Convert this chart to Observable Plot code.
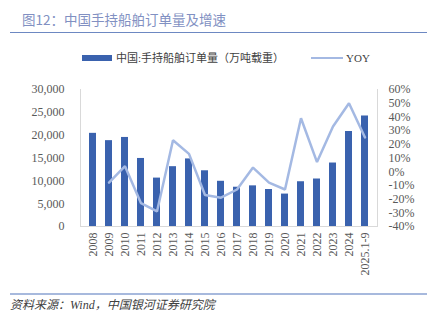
<!DOCTYPE html>
<html><head><meta charset="utf-8">
<script src="https://cdn.jsdelivr.net/npm/d3@7"></script>
<script src="https://cdn.jsdelivr.net/npm/@observablehq/plot@0.6"></script>
<style>
html,body{margin:0;padding:0;background:#fff;}
#page{position:relative;width:432px;height:323px;overflow:hidden;background:#fff;}
.abs{position:absolute;white-space:nowrap;}
#title{left:22px;top:12px;font:13.5px/14px "Noto Sans CJK SC",sans-serif;color:#8190c2;}
#tline{left:10px;top:31.5px;width:417px;height:1.5px;background:#6d88c2;}
#chart{left:0;top:40px;}
#chart svg, #chart svg text{font-family:"Liberation Serif","Times New Roman",serif !important;font-size:12px !important;}
.leg{font:11px/12px "Liberation Serif","Noto Sans CJK SC",serif;color:#404040;}
#bline{left:10px;top:293px;width:417px;height:2px;background:#a7b9dd;}
#src{left:10px;top:298px;font:italic 12px/14px "Liberation Serif","Noto Sans CJK SC",serif;color:#404040;}
</style></head>
<body><div id="page">
<div id="title" class="abs">图12：中国手持船舶订单量及增速</div>
<div id="tline" class="abs"></div>
<div class="abs" style="left:82px;top:55px;width:30px;height:6px;background:#3a62ae"></div>
<div class="abs leg" style="left:116px;top:52px">中国:手持船舶订单量（万吨载重）</div>
<div class="abs" style="left:311px;top:56.8px;width:32px;height:2.5px;background:#a4b9e3"></div>
<div class="abs leg" style="left:346px;top:52px">YOY</div>
<div id="chart" class="abs"></div>
<div id="bline" class="abs"></div>
<div id="src" class="abs">资料来源：Wind，中国银河证券研究院</div>
</div>
<script>
const categories = ["2008","2009","2010","2011","2012","2013","2014","2015","2016","2017","2018","2019","2020","2021","2022","2023","2024","2025.1-9"];
const orders = [20400,18800,19500,14900,10600,13100,14800,12200,9900,8600,8900,8100,7100,9800,10400,13900,20800,24200];
const yoy = [null,-8,4,-23,-29,23,13,-17,-19,-13,3,-8,-13,39,7,33,50,25];
const leftTicks = [0,5000,10000,15000,20000,25000,30000];
const rightTicks = [-40,-30,-20,-10,0,10,20,30,40,50,60];

const barColor = "#3a62ae";
const lineColor = "#a4b9e3";
// map right-axis (%) onto left-axis domain
const toLeft = p => (p + 40) / 100 * 30000;
const fromLeft = v => v / 30000 * 100 - 40;

const barData = categories.map((c, i) => ({cat: c, v: orders[i]}));
const lineData = categories.map((c, i) => ({cat: c, p: yoy[i]})).filter(d => d.p !== null);

const plot = Plot.plot({
  width: 432,
  height: 250,
  marginTop: 49,
  marginBottom: 64,
  marginLeft: 80,
  marginRight: 55,
  style: {fontFamily: "'Liberation Serif','Times New Roman',serif", fontSize: "12px", color: "#595959", background: "transparent"},
  x: {type: "band", domain: categories, paddingInner: 0.56, paddingOuter: 0.28, label: null},
  y: {domain: [0, 30000], label: null},
  marks: [
    Plot.frame({anchor: "left", stroke: "#d9d9d9"}),
    Plot.frame({anchor: "right", stroke: "#d9d9d9"}),
    Plot.frame({anchor: "bottom", stroke: "#d9d9d9"}),
    Plot.barY(barData, {x: "cat", y: "v", fill: barColor}),
    Plot.line(lineData, {x: "cat", y: d => toLeft(d.p), stroke: lineColor, strokeWidth: 2.5, strokeLinejoin: "miter"}),
    Plot.axisY({anchor: "left", ticks: leftTicks, tickSize: 0, tickPadding: 16, tickFormat: d => d3.format(",")(d), label: null}),
    Plot.axisY({anchor: "right", ticks: rightTicks.map(toLeft), tickSize: 0, tickPadding: 11, tickFormat: d => Math.round(fromLeft(d)) + "%", label: null}),
    Plot.axisX({anchor: "bottom", tickRotate: -90, tickSize: 0, tickPadding: 6, label: null})
  ]
});
document.getElementById("chart").appendChild(plot);
</script>
</body></html>
